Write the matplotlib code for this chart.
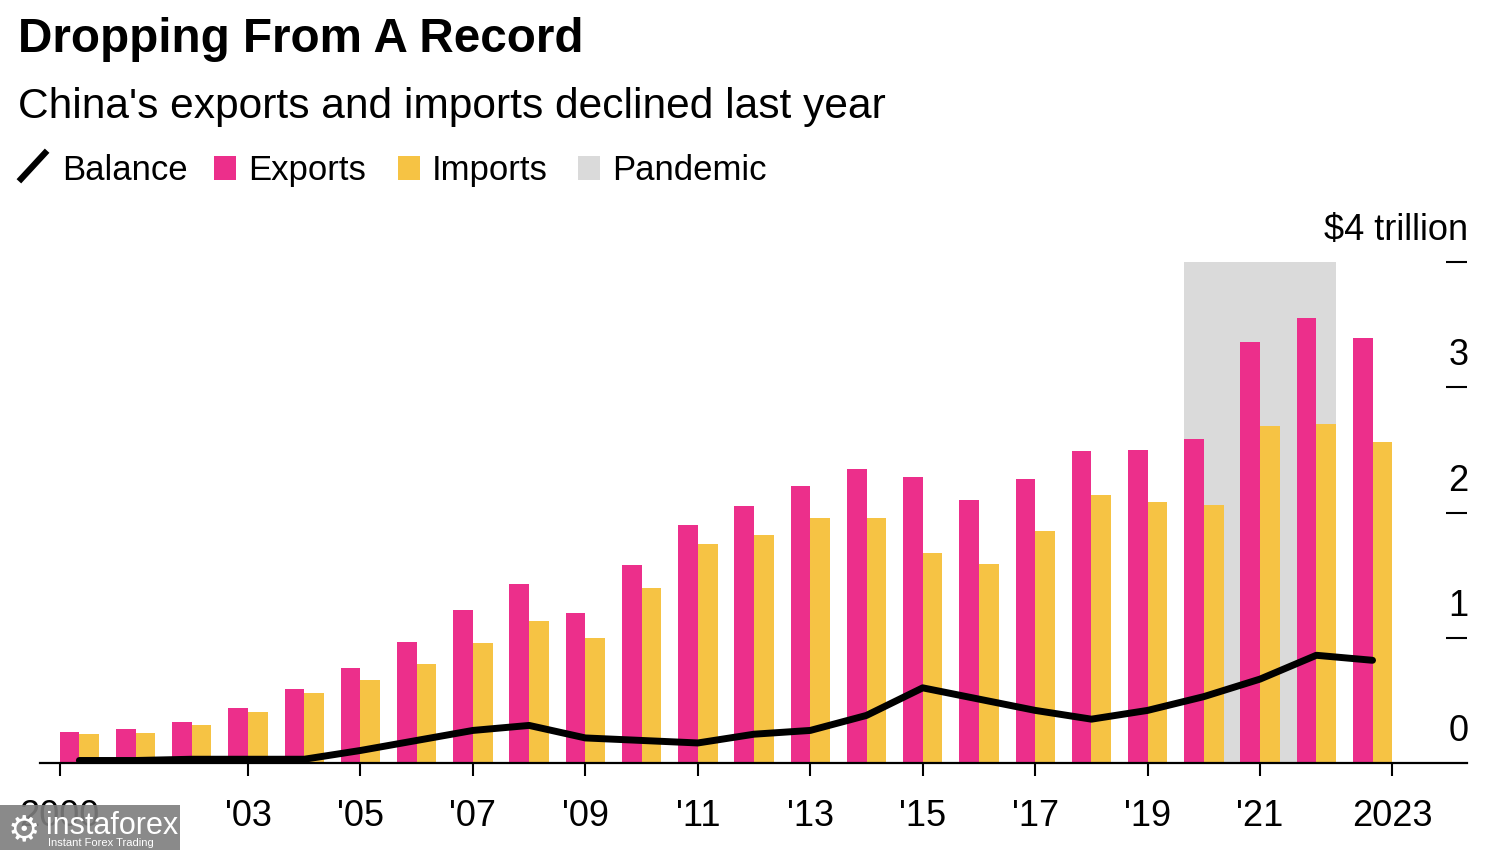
import numpy as np
import matplotlib
matplotlib.use("Agg")
import matplotlib.pyplot as plt
from matplotlib.patches import Rectangle
from matplotlib.lines import Line2D

years = list(range(2000, 2024))
exports = [0.25, 0.27, 0.33, 0.44, 0.59, 0.76, 0.97, 1.22, 1.43, 1.20, 1.58, 1.90,
           2.05, 2.21, 2.35, 2.28, 2.10, 2.27, 2.49, 2.50, 2.59, 3.36, 3.55, 3.39]
imports = [0.23, 0.24, 0.30, 0.41, 0.56, 0.66, 0.79, 0.96, 1.13, 1.00, 1.40, 1.75,
           1.82, 1.96, 1.96, 1.68, 1.59, 1.85, 2.14, 2.08, 2.06, 2.69, 2.71, 2.56]
balance = [0.02, 0.02, 0.03, 0.03, 0.03, 0.10, 0.18, 0.26, 0.30, 0.20, 0.18, 0.16,
           0.23, 0.26, 0.38, 0.60, 0.51, 0.42, 0.35, 0.42, 0.53, 0.67, 0.86, 0.82]
pandemic = (2020, 2022)
tick_years = [2000, 2003, 2005, 2007, 2009, 2011, 2013, 2015, 2017, 2019, 2021, 2023]
tick_labels = ["2000", "'03", "'05", "'07", "'09", "'11", "'13", "'15", "'17", "'19", "'21", "2023"]
y_vals = [0, 1, 2, 3, 4]
y_labels = ["0", "1", "2", "3", "$4 trillion"]

PINK = "#EC2F8B"
YELLOW = "#F6C344"
GREY = "#DADADA"
plt.rcParams["font.family"] = ["Liberation Sans", "DejaVu Sans"]

W, H = 1500, 850
fig = plt.figure(figsize=(15, 8.5), dpi=100)


def fx(px):
    return px / W


def fy(py):
    return 1 - py / H


ax = fig.add_axes([fx(40), fy(763), fx(1467) - fx(40), fy(262) - fy(763)])
x = np.array(years)
bw = 0.35
ax.bar(x - bw / 2, exports, bw, color=PINK, zorder=2, lw=0)
ax.bar(x + bw / 2, imports, bw, color=YELLOW, zorder=2, lw=0)
ax.axvspan(pandemic[0] - bw, pandemic[1] + bw, color=GREY, zorder=1, lw=0)
ax.plot(x, balance, color="black", lw=5, zorder=3,
        solid_capstyle="round", solid_joinstyle="round")

ax.set_xlim(1999.30, 2024.68)
ax.set_ylim(0, 4)
for s in ["top", "left", "right"]:
    ax.spines[s].set_visible(False)
ax.spines["bottom"].set_linewidth(1.6)
ax.spines["bottom"].set_zorder(4)

# first/last ticks sit at the outer edge of the bar pairs
tpos = [y - bw if y == years[0] else (y + bw if y == years[-1] else y) for y in tick_years]
ax.set_xticks(tpos)
ax.set_xticklabels(tick_labels, fontsize=26)
ax.tick_params(axis="x", length=9, width=1.5, pad=17, color="black")

ax.yaxis.tick_right()
ax.set_yticks(y_vals[1:])
ax.set_yticklabels([])
ax.tick_params(axis="y", direction="in", length=15, width=1.5, color="black")
for v, lab in zip(y_vals, y_labels):
    ax.annotate(lab, xy=(1, v), xycoords=("axes fraction", "data"),
                xytext=(1, 10), textcoords="offset points",
                ha="right", va="bottom", fontsize=26, annotation_clip=False)

fig.text(fx(18), fy(52), "Dropping From A Record", fontsize=34.3, fontweight="bold",
         va="baseline", ha="left")
fig.text(fx(18), fy(118), "China's exports and imports declined last year", fontsize=30.6,
         va="baseline", ha="left")

# legend
ly = fy(180)
fig.add_artist(Line2D([fx(21), fx(45)], [fy(179), fy(153)], color="black", lw=4.5,
                      transform=fig.transFigure))
fig.text(fx(62), ly, "Balance", fontsize=25, va="baseline")
for px, col, lab in [(214, PINK, "Exports"), (398, YELLOW, "Imports"), (578, GREY, "Pandemic")]:
    fig.add_artist(Rectangle((fx(px), fy(180)), fx(22), fy(156) - fy(180), color=col,
                             transform=fig.transFigure, lw=0))
    fig.text(fx(px + 34), ly, lab, fontsize=25, va="baseline")

# watermark
fig.add_artist(Rectangle((0, 0), fx(180), fy(805), color="#7d7d7d", alpha=0.9,
                         transform=fig.transFigure, lw=0, zorder=10))
fig.text(fx(46), fy(834), "instaforex", fontsize=22, color="white", va="baseline", zorder=11)
fig.text(fx(48), fy(846), "Instant Forex Trading", fontsize=8, color="white",
         va="baseline", zorder=11)
fig.text(fx(8), fy(840), "\u2699", fontsize=26, color="white", va="baseline",
         family="DejaVu Sans", zorder=11)

fig.savefig("out.png", dpi=100)
